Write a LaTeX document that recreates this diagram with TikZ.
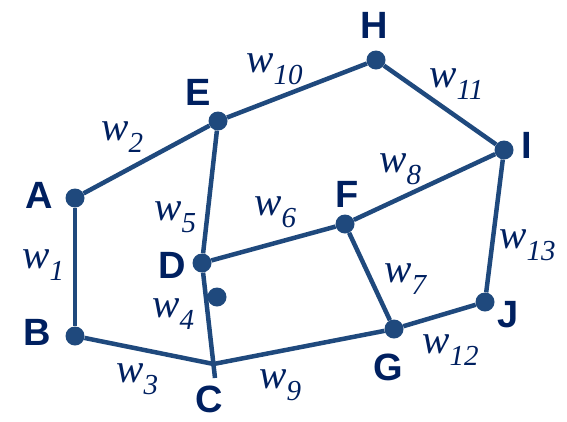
\documentclass[tikz,border=0pt]{standalone}
\usepackage{fontspec}
\setmainfont{Liberation Serif}
\setsansfont{Liberation Sans}
\usetikzlibrary{positioning}
\definecolor{edgeblue}{HTML}{1F497D}
\definecolor{labelblue}{HTML}{002060}
\newcommand{\wt}[1]{{\fontsize{41}{41}\selectfont\itshape w}\raisebox{-12pt}{\fontsize{29}{29}\selectfont\itshape #1}}

\begin{document}
\begin{tikzpicture}[x=1pt, y=-1pt]
    \tikzstyle{vertex} = [circle, fill=edgeblue, inner sep=0pt, minimum size=19pt]
    \tikzstyle{vname} = [font=\sffamily\bfseries\fontsize{38}{38}\selectfont, text=labelblue, inner sep=0pt, anchor=base]
    \tikzstyle{weight} = [text=labelblue, inner sep=0pt, anchor=base west]
    \tikzstyle{line} = [draw=edgeblue, line width=4.5pt]

    \useasboundingbox (0,0) rectangle (567,421);

    % vertices
    \node [vertex] (A) at (75,198) {};
    \node [vertex] (B) at (75,336) {};
    \coordinate (C) at (213.5,364);
    \coordinate (Cend) at (215,378);
    \node [vertex] (D) at (202,263) {};
    \node [vertex] (E) at (218,121) {};
    \node [vertex] (F) at (345,224) {};
    \node [vertex] (G) at (394,329) {};
    \node [vertex] (H) at (376,60) {};
    \node [vertex] (I) at (504,150) {};
    \node [vertex] (J) at (485,302) {};
    \node [vertex] (dot) at (217,297) {};

    % vertex names
    \node [vname] (nA) at (39,208) {A};
    \node [vname] (nB) at (37,345) {B};
    \node [vname] (nC) at (209,412) {C};
    \node [vname] (nD) at (172,278) {D};
    \node [vname] (nE) at (198,105) {E};
    \node [vname] (nF) at (347,207) {F};
    \node [vname] (nG) at (388,380) {G};
    \node [vname] (nH) at (374,38) {H};
    \node [vname] (nI) at (527,158) {I};
    \node [vname] (nJ) at (508,327) {J};

    % edges
    \path [line] (A) -- (B);
    \path [line] (A) -- (E);
    \path [line] (B) -- (C) -- (G);
    \path [line] (D) -- (Cend);
    \path [line] (E) -- (D);
    \path [line] (D) -- (F);
    \path [line] (F) -- (G);
    \path [line] (F) -- (I);
    \path [line] (G) -- (J);
    \path [line] (J) -- (I);
    \path [line] (E) -- (H);
    \path [line] (H) -- (I);

    % weights
    \node [weight] (w1) at (22,268) {\wt{1}};
    \node [weight] (w2) at (101,140) {\wt{2}};
    \node [weight] (w3) at (116,382) {\wt{3}};
    \node [weight] (w4) at (152,317) {\wt{4}};
    \node [weight] (w5) at (154,220) {\wt{5}};
    \node [weight] (w6) at (254,215) {\wt{6}};
    \node [weight] (w7) at (384,282) {\wt{7}};
    \node [weight] (w8) at (379,172) {\wt{8}};
    \node [weight] (w9) at (259,388) {\wt{9}};
    \node [weight] (w10) at (246,72) {\wt{10}};
    \node [weight] (w11) at (429,87) {\wt{11}};
    \node [weight] (w12) at (422,353) {\wt{12}};
    \node [weight] (w13) at (499,248) {\wt{13}};
\end{tikzpicture}
\end{document}
